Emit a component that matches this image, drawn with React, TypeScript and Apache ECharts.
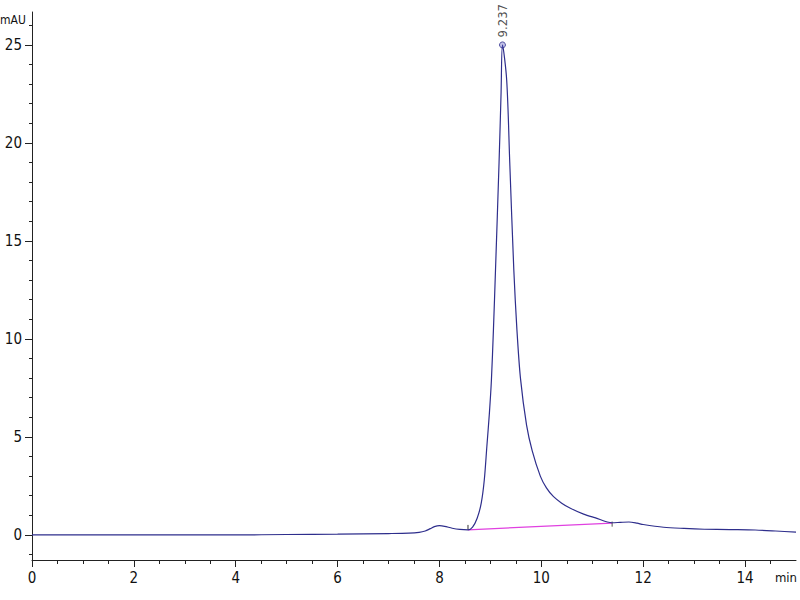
import React, { useEffect, useRef } from "react";
import * as echarts from "echarts";

// Chromatogram trace (time in min, absorbance in mAU)
const times = [
  0, 1, 2, 3, 4, 5, 6, 7, 7.4, 7.6, 7.72, 7.82, 7.9, 8.0, 8.1, 8.25, 8.4, 8.56, 8.65, 8.74, 8.82, 8.88,
  8.93, 8.98, 9.02, 9.06, 9.1, 9.17, 9.21, 9.237, 9.32, 9.38, 9.46, 9.52, 9.59, 9.71, 9.82, 9.98, 10.1,
  10.24, 10.4, 10.57, 10.83, 11.05, 11.39, 11.55, 11.72, 11.88, 12.0, 12.4, 12.8, 13.2, 13.7, 14.2, 14.6,
  15.0,
];
const signal = [
  0.0, 0.0, 0.0, 0.0, 0.0, 0.02, 0.04, 0.07, 0.09, 0.13, 0.2, 0.32, 0.42, 0.47, 0.44, 0.34, 0.28, 0.26,
  0.4, 0.85, 1.62, 2.8, 4.5, 6.2, 7.9, 10.5, 13.5, 19.0, 22.6, 25.0, 23.2, 19.0, 13.5, 10.5, 8.0, 5.6,
  4.3, 3.0, 2.4, 1.95, 1.62, 1.36, 1.06, 0.88, 0.62, 0.64, 0.66, 0.6, 0.53, 0.39, 0.33, 0.29, 0.27, 0.25,
  0.2, 0.14,
];

// Integration baseline (start / end of peak)
const baselineTimes = [8.56, 11.39];
const baselineValues = [0.26, 0.6];

// Peak apex
const peakTime = 9.237;
const peakHeight = 25.0;
const peakLabel = "9.237";

// Axis ticks
const xMajor = [0, 2, 4, 6, 8, 10, 12, 14];
const xMinor = [1, 3, 5, 7, 9, 11, 13, 0.5, 1.5, 2.5, 3.5, 4.5, 5.5, 6.5, 7.5, 8.5, 9.5, 10.5, 11.5, 12.5, 13.5, 14.5];
const yMajor = [0, 5, 10, 15, 20, 25];
const yMinor = [-1, 1, 2, 3, 4, 6, 7, 8, 9, 11, 12, 13, 14, 16, 17, 18, 19, 21, 22, 23, 24, 26];

const X_MIN = 0;
const X_MAX = 15;
const Y_MIN = -1.28;
const Y_MAX = 26.68;

const FONT = "'Liberation Sans Narrow', 'DejaVu Sans Condensed', 'Liberation Sans', sans-serif";
const AXIS_COLOR = "#222";

export default function App() {
  const ref = useRef<HTMLDivElement>(null);

  useEffect(() => {
    if (!ref.current) return;
    const chart = echarts.init(ref.current, null, { renderer: "svg" });

    const trace = times.map((t, i) => [t, signal[i]]);
    const base = baselineTimes.map((t, i) => [t, baselineValues[i]]);

    const startTick = [
      [baselineTimes[0], baselineValues[0]],
      [baselineTimes[0], baselineValues[0] + 0.25],
    ];
    const endTick = [
      [baselineTimes[1], baselineValues[1] - 0.18],
      [baselineTimes[1], baselineValues[1] + 0.08],
    ];

    const commonX = {
      type: "value" as const,
      min: X_MIN,
      max: X_MAX,
      position: "bottom" as const,
      offset: 0,
      splitLine: { show: false },
    };
    const commonY = {
      type: "value" as const,
      min: Y_MIN,
      max: Y_MAX,
      position: "left" as const,
      offset: 0,
      splitLine: { show: false },
    };

    chart.setOption({
      animation: false,
      backgroundColor: "#ffffff",
      grid: { left: 32, right: 4, top: 12, bottom: 40 },
      xAxis: [
        {
          ...commonX,
          axisLine: { show: true, onZero: false, lineStyle: { color: AXIS_COLOR, width: 1 } },
          axisTick: { show: true, inside: false, length: 7, customValues: xMajor, lineStyle: { color: AXIS_COLOR } },
          axisLabel: {
            show: true,
            customValues: xMajor,
            margin: 10,
            color: "#111",
            fontSize: 15,
            fontFamily: FONT,
          },
        },
        {
          ...commonX,
          axisLine: { show: false, onZero: false },
          axisTick: { show: true, inside: false, length: 4, customValues: xMinor, lineStyle: { color: AXIS_COLOR } },
          axisLabel: { show: false },
        },
      ],
      yAxis: [
        {
          ...commonY,
          axisLine: { show: true, onZero: false, lineStyle: { color: AXIS_COLOR, width: 1 } },
          axisTick: { show: true, inside: false, length: 7, customValues: yMajor, lineStyle: { color: AXIS_COLOR } },
          axisLabel: {
            show: true,
            customValues: yMajor,
            margin: 10,
            color: "#111",
            fontSize: 15,
            fontFamily: FONT,
          },
        },
        {
          ...commonY,
          axisLine: { show: false, onZero: false },
          axisTick: { show: true, inside: false, length: 3, customValues: yMinor, lineStyle: { color: AXIS_COLOR } },
          axisLabel: { show: false },
        },
      ],
      graphic: [
        {
          type: "text",
          left: 0,
          top: 14,
          style: { text: "mAU", fontSize: 12, fontFamily: FONT, fill: "#111" },
        },
        {
          type: "text",
          right: 3,
          top: 571,
          style: { text: "min", fontSize: 13, fontFamily: FONT, fill: "#111" },
        },
      ],
      series: [
        {
          type: "line",
          xAxisIndex: 0,
          yAxisIndex: 0,
          data: trace,
          showSymbol: false,
          symbol: "none",
          smooth: 0.3,
          lineStyle: { color: "#2e2e8c", width: 1.2 },
          z: 3,
        },
        {
          type: "line",
          xAxisIndex: 0,
          yAxisIndex: 0,
          data: base,
          symbol: "none",
          lineStyle: { color: "#e040e0", width: 1.2 },
          z: 2,
        },
        {
          type: "line",
          xAxisIndex: 0,
          yAxisIndex: 0,
          data: startTick,
          symbol: "none",
          lineStyle: { color: "#333", width: 1 },
          z: 2,
        },
        {
          type: "line",
          xAxisIndex: 0,
          yAxisIndex: 0,
          data: endTick,
          symbol: "none",
          lineStyle: { color: "#555", width: 1 },
          z: 2,
        },
        {
          type: "scatter",
          xAxisIndex: 0,
          yAxisIndex: 0,
          data: [[peakTime, peakHeight]],
          symbol: "circle",
          symbolSize: 6,
          itemStyle: { color: "rgba(90,90,190,0.45)", borderColor: "#2e2e8c", borderWidth: 1 },
          label: {
            show: true,
            formatter: peakLabel,
            position: "top",
            distance: 4,
            rotate: 90,
            align: "left",
            verticalAlign: "middle",
            fontSize: 13,
            fontFamily: FONT,
            color: "#222",
          },
          z: 4,
        },
      ],
    });

    return () => {
      chart.dispose();
    };
  }, []);

  return <div ref={ref} style={{ width: 800, height: 600, position: "absolute", left: 0, top: 0 }} />;
}
